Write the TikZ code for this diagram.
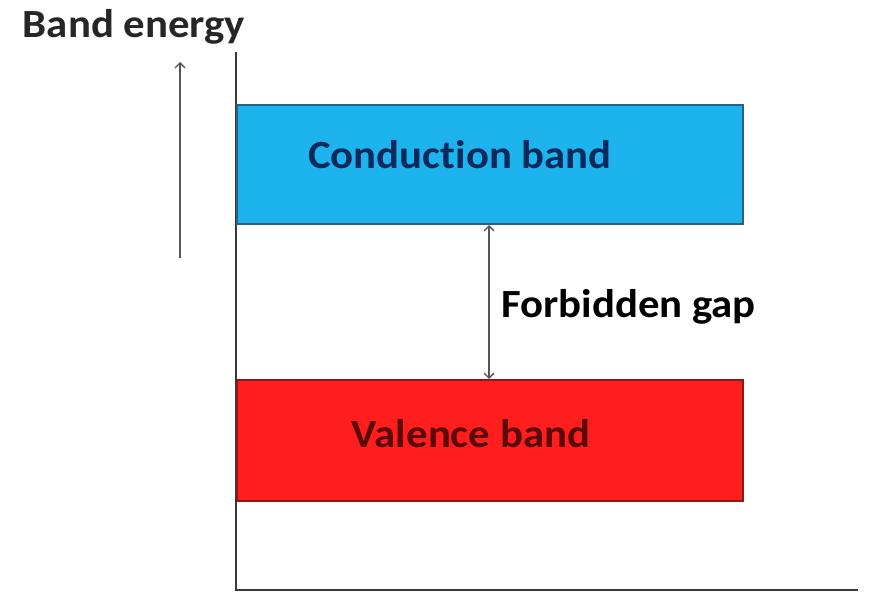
\documentclass[tikz,border=0pt]{standalone}
\usepackage{fontspec}
\setmainfont[Ligatures=NoCommon]{Carlito}
\usetikzlibrary{arrows.meta}
\definecolor{cbfill}{HTML}{1DB4EE}
\definecolor{cbdraw}{HTML}{2A5F86}
\definecolor{cbtext}{HTML}{0A2A5E}
\definecolor{vbfill}{HTML}{FE1E1E}
\definecolor{vbdraw}{HTML}{8A1A1A}
\definecolor{vbtext}{HTML}{5A0808}
\definecolor{axisc}{HTML}{3A3A3A}
\definecolor{arrc}{HTML}{555555}
\newcommand{\widetxt}[1]{\scalebox{1.07}[1]{#1}}
\tikzset{
  bandbox/.style={line width=1.2pt},
  lbl/.style={font=\bfseries\fontsize{40}{44}\selectfont, anchor=base, inner sep=0pt},
  axisline/.style={draw=axisc, line width=1.4pt},
  thinarrow/.style={draw=arrc, line width=1.3pt, -{Straight Barb[length=5pt,width=10pt]}},
  gaparrow/.style={draw=arrc, line width=1.3pt, {Straight Barb[length=5pt,width=10pt]}-{Straight Barb[length=5pt,width=10pt]}}
}
\begin{document}
\begin{tikzpicture}[x=1pt,y=-1pt]
\useasboundingbox (0,0) rectangle (874,592);
% axes
\coordinate (ytop) at (236,52);
\coordinate (origin) at (236,590);
\coordinate (xend) at (858,590);
\draw[axisline] (ytop) -- (origin) -- (xend);
% bands
\draw[bandbox, fill=cbfill, draw=cbdraw] (237,105) rectangle (743,224);
\coordinate (cbbot) at (489,225);
\draw[bandbox, fill=vbfill, draw=vbdraw] (237,380) rectangle (743,501);
\coordinate (vbtop) at (489,379);
% labels
\node[lbl, text=cbtext] (cb) at (460,168) {\widetxt{Conduction band}};
\node[lbl, text=vbtext] (vb) at (471,447) {\widetxt{Valence band}};
\node[lbl, text=black, anchor=base west] (fg) at (501,317) {\widetxt{Forbidden gap}};
\node[lbl, text=black!85] (be) at (134,37) {\widetxt{Band energy}};
% energy arrow
\coordinate (eb) at (180,258);
\coordinate (et) at (180,62);
\draw[thinarrow] (eb) -- (et);
% gap arrow
\draw[gaparrow] (cbbot) -- (vbtop);
\end{tikzpicture}
\end{document}
